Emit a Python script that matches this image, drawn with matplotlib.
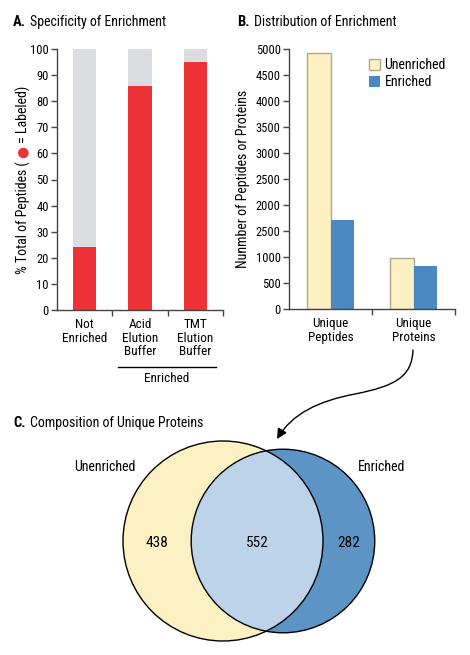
import math

import matplotlib
matplotlib.use("Agg")
import matplotlib.pyplot as plt
import numpy as np
from matplotlib.patches import Circle, FancyArrowPatch, Patch
from matplotlib.path import Path

plt.rcParams["font.family"] = ["Roboto Condensed", "Liberation Sans Narrow",
                               "Liberation Sans", "DejaVu Sans"]

# panel A
a_cats = ["Not\nEnriched", "Acid\nElution\nBuffer", "TMT\nElution\nBuffer"]
a_labeled = [24, 86, 95]
a_total = 100

# panel B
b_cats = ["Unique\nPeptides", "Unique\nProteins"]
b_unenriched = [4920, 990]
b_enriched = [1720, 834]
b_ticks = [0, 500, 1000, 1500, 2000, 2500, 3000, 3500, 4000, 4500, 5000]
b_ticklabels = ["0", "500", "1000", "2500", "2000", "2500", "3000",
                "3500", "4000", "4500", "5000"]

# panel C
venn_only_unenr = 438
venn_shared = 552
venn_only_enr = 282

RED = "#ec3237"
GREY = "#dcdde0"
YEL = "#fdf0c2"
YEL_EDGE = "#b3a78f"
BLUE = "#4b87c1"
VBLUE = "#5c94c6"
OVER = "#bdd3e9"
SPINE = "#444444"

W, H = 470, 655
fig = plt.figure(figsize=(W / 100, H / 100), dpi=100)


def px_axes(x0, y0, x1, y1):
    return fig.add_axes([x0 / W, 1 - y1 / H, (x1 - x0) / W, (y1 - y0) / H])


def style(ax):
    for s in ("top", "right"):
        ax.spines[s].set_visible(False)
    for s in ("left", "bottom"):
        ax.spines[s].set_color(SPINE)
        ax.spines[s].set_linewidth(1.0)
    ax.tick_params(axis="y", length=4, width=1, color=SPINE, labelsize=9,
                   pad=2)
    ax.tick_params(axis="x", which="major", length=4, width=1, color=SPINE,
                   labelbottom=False)
    ax.tick_params(axis="x", which="minor", length=0, labelsize=9.5, pad=6)


def title(x, y, letter, text):
    fig.text(x / W, 1 - y / H, letter, fontsize=10.5, fontweight="bold",
             va="center")
    fig.text((x + 17) / W, 1 - y / H, text, fontsize=10, va="center")


# ---- A
ax = px_axes(57, 49, 223, 310)
xa = np.arange(len(a_cats))
lab = np.array(a_labeled)
ax.bar(xa, a_total - lab, 0.42, bottom=lab, color=GREY)
ax.bar(xa, lab, 0.42, color=RED)
ax.set_xlim(-0.5, 2.5)
ax.set_ylim(0, 100)
ax.set_yticks(range(0, 101, 10))
ax.set_xticks(xa + 0.5)
ax.set_xticks(xa, minor=True)
ax.set_xticklabels(a_cats, minor=True, linespacing=1.05)
style(ax)
ax.plot([0.6, 2.38], [-0.218, -0.218], color="black", lw=1,
        transform=ax.get_xaxis_transform(), clip_on=False)
ax.text(1.49, -0.262, "Enriched", fontsize=9.5, ha="center", va="center",
        transform=ax.get_xaxis_transform())
title(13, 22, "A.", "Specificity of Enrichment")

# rotated y label with a red dot
r = fig.canvas.get_renderer()
parts = [("% Total of Peptides ( ", "black", "Roboto Condensed"),
         ("\u25cf", RED, "DejaVu Sans"),
         (" = Labeled)", "black", "Roboto Condensed")]
texts = [fig.text(23 / W, 0, s, color=c, rotation=90, ha="center",
                  va="bottom", fontsize=10, family=[f, "DejaVu Sans"])
         for s, c, f in parts]
hs = [t.get_window_extent(r).height for t in texts]
y = (H - 179.5) - sum(hs) / 2
for t, h in zip(texts, hs):
    t.set_position((23 / W, y / H))
    y += h

# ---- B
bx = px_axes(289, 49, 455, 309)
xb = np.arange(len(b_cats))
bw = 0.28
bx.bar(xb - bw / 2, b_unenriched, bw, color=YEL, edgecolor=YEL_EDGE, lw=1,
       label="Unenriched")
bx.bar(xb + bw / 2, b_enriched, bw, color=BLUE, label="Enriched")
bx.set_xlim(-0.5, 1.5)
bx.set_ylim(0, 5000)
bx.set_yticks(b_ticks)
bx.set_yticklabels(b_ticklabels)
bx.set_xticks(xb + 0.5)
bx.set_xticks(xb, minor=True)
bx.set_xticklabels(b_cats, minor=True, linespacing=1.05)
style(bx)
bx.set_ylabel("Nunmber of Peptides or Proteins", fontsize=10, labelpad=4)
handles = [Patch(facecolor=YEL, edgecolor=YEL_EDGE, lw=1),
           Patch(facecolor=BLUE)]
bx.legend(handles, ["Unenriched", "Enriched"], loc="upper left",
          bbox_to_anchor=(0.45, 0.985), frameon=False, fontsize=10,
          handlelength=0.8, handleheight=0.8, handletextpad=0.3,
          labelspacing=0.2, borderaxespad=0)
title(237, 22, "B.", "Distribution of Enrichment")

# curved arrow from B to C
verts = [(413, 350), (412, 377), (395, 386), (355, 394),
         (318, 401), (292, 414), (277, 439)]
verts = [(x / W, 1 - y / H) for x, y in verts]
codes = [Path.MOVETO] + [Path.CURVE4] * 6
arr = FancyArrowPatch(path=Path(verts, codes),
                      arrowstyle="-|>,head_length=6,head_width=3",
                      color="black", lw=1, transform=fig.transFigure)
fig.patches.append(arr)

# ---- C (area-proportional Venn)
title(13, 423, "C.", "Composition of Unique Proteins")
n1 = venn_only_unenr + venn_shared
n2 = venn_only_enr + venn_shared
r1 = 1.0
r2 = math.sqrt(n2 / n1)


def overlap(d):
    a1 = r1 ** 2 * math.acos((d * d + r1 ** 2 - r2 ** 2) / (2 * d * r1))
    a2 = r2 ** 2 * math.acos((d * d + r2 ** 2 - r1 ** 2) / (2 * d * r2))
    k = (-d + r1 + r2) * (d + r1 - r2) * (d - r1 + r2) * (d + r1 + r2)
    return a1 + a2 - 0.5 * math.sqrt(k)


target = venn_shared / n1 * math.pi * r1 ** 2
lo, hi = r1 - r2 + 1e-6, r1 + r2 - 1e-6
for _ in range(60):
    mid = (lo + hi) / 2
    if overlap(mid) > target:
        lo = mid
    else:
        hi = mid
d = (lo + hi) / 2

cx = px_axes(113, 436, 393, 646)
cx.set_xlim(-1.1, 1.7)
cx.set_ylim(-1.05, 1.05)
cx.set_aspect("equal")
cx.axis("off")
c1 = Circle((0, 0), r1, facecolor=YEL, edgecolor="none")
c2 = Circle((d, 0), r2, facecolor=VBLUE, edgecolor="none")
cx.add_patch(c1)
cx.add_patch(c2)
c3 = Circle((d, 0), r2, facecolor=OVER, edgecolor="none")
cx.add_patch(c3)
c3.set_clip_path(c1)
cx.add_patch(Circle((0, 0), r1, fill=False, edgecolor="black", lw=1))
cx.add_patch(Circle((d, 0), r2, fill=False, edgecolor="black", lw=1))
cx.text((-r1 + d - r2) / 2, -0.02, str(venn_only_unenr), fontsize=11,
        ha="center", va="center")
cx.text((d - r2 + r1) / 2, -0.02, str(venn_shared), fontsize=11,
        ha="center", va="center")
cx.text((r1 + d + r2) / 2, -0.02, str(venn_only_enr), fontsize=11,
        ha="center", va="center")
cx.text(-1.18, 0.74, "Unenriched", fontsize=10, ha="center", va="center")
cx.text(1.59, 0.74, "Enriched", fontsize=10, ha="center", va="center")

fig.savefig("out.png", dpi=100)
